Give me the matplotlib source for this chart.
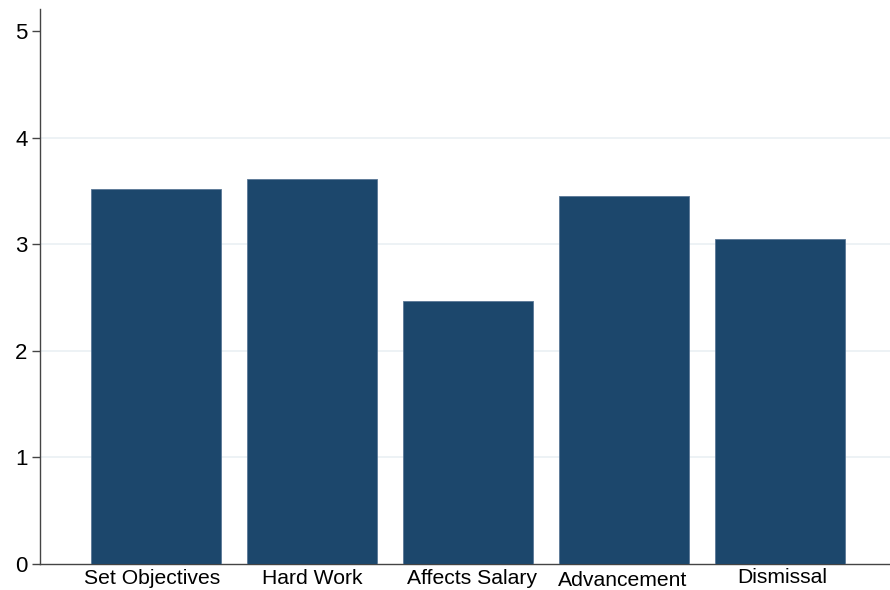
import matplotlib
matplotlib.use("Agg")
import matplotlib.pyplot as plt
from matplotlib.transforms import ScaledTranslation

categories = ["Set Objectives", "Hard Work", "Affects Salary", "Advancement", "Dismissal"]
values = [3.515, 3.61, 2.467, 3.454, 3.05]
yticks = [0, 1, 2, 3, 4, 5]

plt.rcParams['font.family'] = ['Liberation Sans', 'DejaVu Sans']

fig = plt.figure(figsize=(8.9, 5.9), dpi=100)
ax = fig.add_axes([40/890, 26.5/590, 850/890, (563.5-9)/590])

x = list(range(len(categories)))
ax.bar(x, values, width=0.835, color="#1c476c", edgecolor="#5a7896", linewidth=0.6, zorder=3)

ax.set_xlim(-0.744, 4.705)
ax.set_ylim(0, 5.21)
ax.set_yticks(yticks)
ax.set_yticklabels([str(t) for t in yticks], fontsize=16, color="black")
ax.set_xticks(x)
ax.set_xticklabels(categories, fontsize=15.2, color="black")
ax.tick_params(axis='x', length=0, pad=4)
ax.tick_params(axis='y', length=6, width=1, color="#444444", pad=3)

# small per-label shifts (pixels) as in the reference layout
shifts = [(-4, 0), (0, 0), (4, 0), (-1, -1.5), (2.5, 1.5)]
for lab, (dx, dy) in zip(ax.get_xticklabels(), shifts):
    lab.set_transform(lab.get_transform() + ScaledTranslation(dx/100, dy/100, fig.dpi_scale_trans))

for yv in yticks[1:5]:
    ax.axhline(yv, color="#eaf0f4", linewidth=1.2, zorder=1)

for s in ["top", "right"]:
    ax.spines[s].set_visible(False)
ax.spines["left"].set_color("#444444")
ax.spines["bottom"].set_color("#444444")
ax.spines["left"].set_linewidth(1)
ax.spines["bottom"].set_linewidth(1)

fig.savefig("out.png", dpi=100)
